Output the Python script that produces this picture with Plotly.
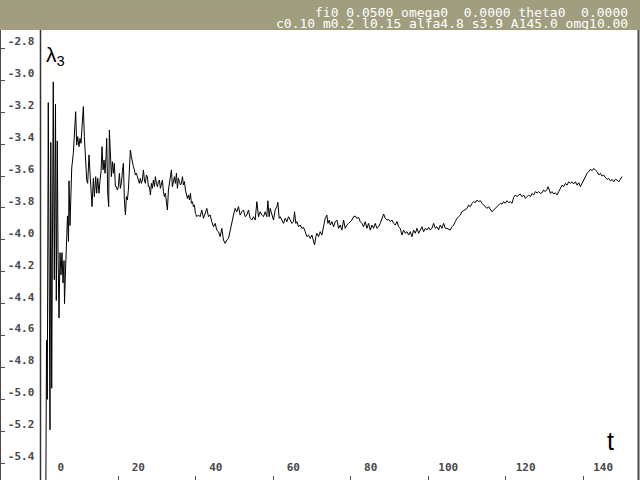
import plotly.graph_objects as go

# ---- data ----
t = [1.27, 1.45, 1.65, 1.91, 2.35, 2.56, 2.79, 3.20, 3.46, 3.77, 3.98, 4.24, 4.42, 4.68, 4.94,
     5.19, 5.45, 5.71, 5.97, 6.10, 6.36, 6.62, 6.87, 7.13, 7.26, 7.52, 7.78, 7.96, 8.37, 8.63,
     8.98, 9.24, 9.50, 9.84, 10.10, 10.36, 10.71, 10.96, 11.22, 11.57, 11.83, 12.08, 12.43, 12.69,
     12.95, 13.20, 13.55, 13.81, 14.15, 14.41, 14.67, 15.01, 15.27, 15.53, 15.79, 16.05, 16.30,
     16.56, 16.82, 16.99, 17.25, 17.51, 17.68, 17.94, 18.20, 18.46, 18.72, 18.97, 19.23, 19.49,
     19.75, 20.01, 20.27, 20.52, 20.78, 21.04, 21.30, 21.56, 21.82, 22.08, 22.33, 22.59, 22.85,
     23.11, 23.37, 23.63, 23.88, 24.14, 24.40, 24.66, 24.92, 25.18, 25.43, 25.69, 25.95, 26.21,
     26.47, 26.73, 26.98, 27.24, 27.50, 27.76, 28.02, 28.28, 28.54, 28.79, 29.05, 29.31, 29.57,
     29.83, 30.09, 30.34, 30.60, 30.86, 31.12, 31.38, 31.64, 31.89, 32.15, 32.41, 32.67, 32.93,
     33.19, 33.45, 33.70, 33.96, 34.22, 34.48, 34.74, 35.00, 35.25, 35.51, 35.77, 36.03, 36.29,
     36.55, 36.80, 37.06, 37.32, 37.58, 37.84, 38.10, 38.35, 38.61, 38.87, 39.13, 39.39, 39.65,
     39.90, 40.25, 40.68, 41.11,
     41.54, 41.98, 42.41, 42.84, 43.27, 43.70, 44.13, 44.56, 44.99, 45.42, 45.85, 46.28, 46.71,
     47.14, 47.57, 48.00, 48.44, 48.87, 49.30, 49.73, 50.16, 50.59, 51.02, 51.45, 51.88, 52.31,
     52.74, 53.17, 53.60, 54.03, 54.46, 54.90, 55.33, 55.76, 56.19, 56.62, 57.05, 57.48, 57.91,
     58.34, 58.60, 58.94, 59.20, 59.63, 60.06, 60.49, 60.92, 61.18, 61.53, 61.79, 62.22, 62.65,
     63.08, 63.51, 63.94, 64.37, 64.80, 65.23, 65.49, 65.83, 66.09, 66.52, 66.95, 67.38, 67.81,
     68.25, 68.68, 69.11, 69.54, 69.97, 70.40, 70.66, 71.00, 71.26, 71.69, 72.12, 72.55, 72.98,
     73.41, 73.84, 74.10, 74.45, 74.71, 75.14, 75.57, 76.00, 76.43, 76.86, 77.29, 77.72, 78.15,
     78.58, 79.01, 79.44, 79.87, 80.30, 80.73, 81.17, 81.60, 82.03, 82.46, 82.89, 83.32, 83.75,
     84.18, 84.61, 85.04, 85.47, 85.90, 86.33, 86.76, 87.19, 87.62, 88.06, 88.49, 88.92, 89.35,
     89.78, 90.21, 90.64, 91.07, 91.50, 91.93, 92.36, 92.79, 93.22, 93.65, 94.08, 94.51, 94.95,
     95.38, 95.81, 96.24, 96.67, 97.10, 97.53,
     97.95, 98.39, 98.82, 99.25, 99.68, 100.11, 100.54, 100.97, 101.40, 101.83, 102.26, 102.69,
     103.12, 103.55, 103.98, 104.41, 104.84, 105.28, 105.71, 106.14, 106.57, 107.00, 107.43,
     107.86, 108.29, 108.72, 109.15, 109.58, 110.01, 110.44, 110.87, 111.30, 111.73, 112.17,
     112.60, 113.03, 113.46, 113.89, 114.32, 114.75, 115.18, 115.61, 116.04, 116.47, 116.90,
     117.33, 117.76, 118.19, 118.63, 119.06, 119.49, 119.92, 120.35, 120.78, 121.21, 121.64,
     122.07, 122.50, 122.93, 123.36, 123.79, 124.22, 124.65, 125.08, 125.52, 125.95, 126.38,
     126.81, 127.24, 127.67, 128.10, 128.53, 128.96, 129.39, 129.82, 130.25, 130.68, 130.94,
     131.29, 131.55, 131.98, 132.41, 132.84, 133.27, 133.70, 134.13, 134.56, 134.99, 135.42,
     135.85, 136.28, 136.71, 137.14, 137.57, 138.01, 138.44, 138.87, 139.30, 139.73, 140.16,
     140.59, 141.02, 141.45, 141.88, 142.31, 142.74, 143.17, 143.60, 144.03, 144.46, 144.90,
     145.33, 145.76, 146.19, 146.62, 147.05, 147.48, 147.91, 148.34, 148.77, 149.20, 149.63,
     150.06]

lam3 = [-5.63, -4.63, -5.00, -3.14, -5.19, -3.39, -4.93, -3.01, -4.25, -3.15, -4.38, -3.38, -4.06,
        -4.49, -4.08, -4.22, -4.08, -4.27, -4.13, -4.40, -4.19, -4.02, -3.85, -4.01, -3.63, -3.91,
        -3.61, -3.55, -3.46, -3.36,
        -3.197, -3.406, -3.353, -3.416, -3.364, -3.395, -3.291, -3.165, -3.353, -3.520, -3.625,
        -3.646, -3.468, -3.583, -3.667, -3.792, -3.614, -3.729, -3.604, -3.708, -3.614, -3.708,
        -3.625, -3.573, -3.416, -3.562, -3.500, -3.583, -3.479, -3.364, -3.708, -3.792, -3.312,
        -3.500, -3.604, -3.510, -3.583, -3.520, -3.667, -3.667, -3.688, -3.667, -3.583, -3.677,
        -3.646, -3.573, -3.520, -3.750, -3.844, -3.729, -3.750, -3.688, -3.562, -3.437, -3.479,
        -3.520, -3.541, -3.562, -3.594, -3.583, -3.604, -3.625, -3.646, -3.614, -3.646, -3.625,
        -3.562, -3.625, -3.646, -3.594, -3.604, -3.667, -3.667, -3.719, -3.646, -3.677, -3.625,
        -3.667, -3.604, -3.646, -3.667, -3.635, -3.625, -3.677, -3.646, -3.625, -3.698, -3.729,
        -3.708, -3.771, -3.813, -3.688, -3.646, -3.625, -3.562, -3.667, -3.625, -3.604, -3.646,
        -3.583, -3.677, -3.614, -3.635, -3.656, -3.646, -3.604, -3.656, -3.635, -3.688, -3.708,
        -3.740, -3.719, -3.750, -3.708, -3.771, -3.761, -3.792, -3.781, -3.834, -3.855, -3.844,
        -3.855,
        -3.813, -3.865, -3.834, -3.803, -3.855, -3.844, -3.886, -3.918, -3.897, -3.939, -3.949,
        -3.980, -3.928, -4.001, -4.022, -4.001, -3.991, -3.939, -3.876, -3.845, -3.803, -3.824,
        -3.792, -3.845, -3.824, -3.813, -3.855, -3.845, -3.813, -3.865, -3.876, -3.855, -3.876,
        -3.761, -3.855, -3.824, -3.845, -3.855, -3.824, -3.855, -3.755, -3.855, -3.803, -3.834,
        -3.876, -3.813, -3.792, -3.765, -3.865, -3.855, -3.876, -3.897, -3.865, -3.886, -3.855,
        -3.876, -3.897, -3.886, -3.824, -3.897, -3.886, -3.918, -3.907, -3.928, -3.922, -3.949,
        -3.980, -3.970, -3.991, -3.970, -4.012, -4.032, -3.980, -3.959, -3.980, -3.949, -3.970,
        -3.918, -3.865, -3.845, -3.897, -3.876, -3.907, -3.886, -3.918, -3.886, -3.876, -3.928,
        -3.907, -3.939, -3.876, -3.928, -3.907, -3.897, -3.886, -3.876, -3.855, -3.851, -3.865,
        -3.859, -3.886, -3.897, -3.918, -3.886, -3.928, -3.897, -3.939, -3.907, -3.928, -3.897,
        -3.928, -3.918, -3.897, -3.865, -3.838, -3.865, -3.876, -3.872, -3.886, -3.876, -3.897,
        -3.907, -3.886, -3.918, -3.928, -3.970, -3.939, -3.959, -3.949, -3.970, -3.949, -3.980,
        -3.939, -3.959, -3.928, -3.959,
        -3.938, -3.918, -3.949, -3.928, -3.938, -3.922, -3.938, -3.928, -3.897, -3.928, -3.918,
        -3.938, -3.907, -3.928, -3.897, -3.928, -3.928, -3.934, -3.938, -3.918, -3.907, -3.886,
        -3.865, -3.855, -3.845, -3.824, -3.817, -3.813, -3.803, -3.782, -3.792, -3.771, -3.761,
        -3.767, -3.751, -3.761, -3.755, -3.771, -3.782, -3.792, -3.803, -3.792, -3.809, -3.824,
        -3.813, -3.803, -3.792, -3.782, -3.771, -3.776, -3.761, -3.771, -3.755, -3.767, -3.761,
        -3.771, -3.734, -3.719, -3.730, -3.719, -3.713, -3.730, -3.719, -3.740, -3.730, -3.719,
        -3.730, -3.709, -3.719, -3.698, -3.705, -3.698, -3.709, -3.705, -3.688, -3.698, -3.684,
        -3.667, -3.688, -3.709, -3.698, -3.713, -3.705, -3.719, -3.698, -3.677, -3.657, -3.667,
        -3.646, -3.657, -3.636, -3.646, -3.636, -3.650, -3.636, -3.657, -3.642, -3.667, -3.646,
        -3.625, -3.604, -3.583, -3.573, -3.558, -3.567, -3.552, -3.563, -3.573, -3.594, -3.583,
        -3.600, -3.594, -3.609, -3.621, -3.615, -3.630, -3.621, -3.636, -3.621, -3.625, -3.636,
        -3.615, -3.604]

y_tick_vals = [-2.8, -3.0, -3.2, -3.4, -3.6, -3.8, -4.0, -4.2, -4.4, -4.6, -4.8, -5.0, -5.2, -5.4]
y_tick_text = ["-2.8", "-3.0", "-3.2", "-3.4", "-3.6", "-3.8", "-4.0", "-4.2", "-4.4", "-4.6",
               "-4.8", "-5.0", "-5.2", "-5.4"]
x_tick_vals = [0, 20, 40, 60, 80, 100, 120, 140]
x_tick_text = ["0", "20", "40", "60", "80", "100", "120", "140"]

header_line1 = "fi0 0.0500 omega0  0.0000 theta0  0.0000"
header_line2 = "c0.10 m0.2 l0.15 alfa4.8 s3.9 A145.0 omg10.00"
y_title = "λ<sub>3</sub>"
x_title = "t"

W, H = 640, 480
TOP = 30
PLOT_H = H - TOP
MONO = "DejaVu Sans Mono"
AXIS_COL = "#4a4a4a"
TICK_FONT = dict(family=MONO, size=11, color="#484848", weight="bold")

fig = go.Figure()
fig.add_trace(go.Scatter(x=t, y=lam3, mode="lines",
                         line=dict(color="black", width=1), showlegend=False,
                         hoverinfo="skip"))

fig.update_layout(
    width=W, height=H,
    margin=dict(l=0, r=0, t=TOP, b=0, pad=0),
    paper_bgcolor="white", plot_bgcolor="white",
    showlegend=False,
    xaxis=dict(
        domain=[40.5 / W, 638.5 / W],
        range=[-0.10, 154.3],
        showgrid=False, zeroline=False,
        showline=True, linecolor=AXIS_COL, linewidth=2,
        ticks="inside", ticklen=4, tickwidth=1, tickcolor=AXIS_COL,
        tickvals=x_tick_vals, ticktext=x_tick_text,
        ticklabelposition="inside", ticklabelshift=20, ticklabelstandoff=2,
        ticklabeloverflow="allow",
        tickfont=TICK_FONT,
        automargin=False,
    ),
    yaxis=dict(
        domain=[0, 1],
        range=[-5.505, -2.685],
        anchor="free", position=0, side="left",
        showgrid=False, zeroline=False,
        showline=True, linecolor=AXIS_COL, linewidth=2,
        ticks="inside", ticklen=4, tickwidth=1, tickcolor=AXIS_COL,
        tickvals=y_tick_vals, ticktext=y_tick_text,
        ticklabelposition="inside", ticklabelshift=-7, ticklabelstandoff=2,
        ticklabeloverflow="allow",
        tickfont=TICK_FONT,
        automargin=False,
    ),
)

# header band
fig.add_shape(type="rect", xref="paper", yref="paper",
              x0=0, x1=1, y0=1, y1=1 + TOP / PLOT_H,
              fillcolor="#a09e7f", line=dict(width=0), layer="below")
# plot area borders
fig.add_shape(type="line", xref="x domain", yref="paper", x0=0, x1=0, y0=0, y1=1,
              line=dict(color="#333333", width=1.5))
fig.add_shape(type="line", xref="x domain", yref="paper", x0=1, x1=1, y0=0, y1=1,
              line=dict(color=AXIS_COL, width=2))

nb = lambda s: s.replace(" ", "\u00a0")
fig.add_annotation(text=nb(header_line1), xref="paper", yref="paper",
                   x=629.5 / W, y=1 + (TOP - 12.5) / PLOT_H, xanchor="right", yanchor="middle",
                   showarrow=False, font=dict(family=MONO, size=13, color="white"))
fig.add_annotation(text=nb(header_line2), xref="paper", yref="paper",
                   x=629.5 / W, y=1 + (TOP - 23.5) / PLOT_H, xanchor="right", yanchor="middle",
                   showarrow=False, font=dict(family=MONO, size=13, color="white"))

fig.add_annotation(text=y_title, xref="paper", yref="paper",
                   x=44 / W, y=1 - (56 - TOP) / PLOT_H, xanchor="left", yanchor="middle",
                   showarrow=False, font=dict(family="Liberation Sans", size=21, color="black"))
fig.add_annotation(text=x_title, xref="paper", yref="paper",
                   x=610 / W, y=1 - (441 - TOP) / PLOT_H, xanchor="center", yanchor="middle",
                   showarrow=False, font=dict(family="Liberation Sans", size=25, color="black"))

fig.write_html("out.html",
               config={"displayModeBar": False, "staticPlot": True},
               post_script="document.body.style.margin='0';document.body.style.padding='0';"
                           "document.body.style.overflow='hidden';")
